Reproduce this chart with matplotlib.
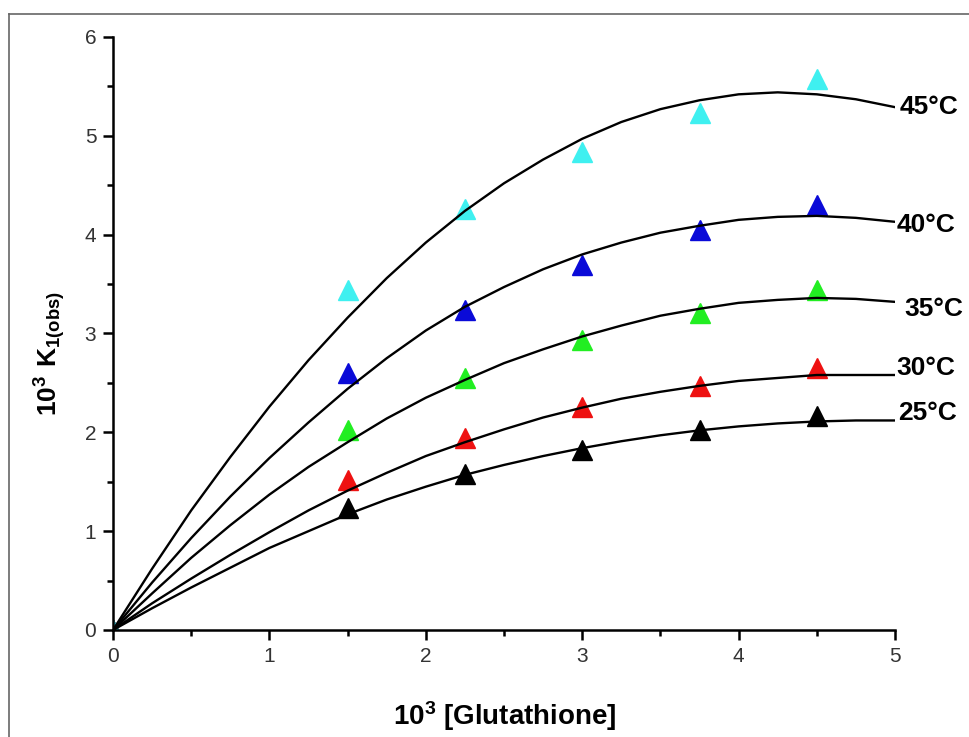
import numpy as np
import matplotlib
matplotlib.use("Agg")
import matplotlib.pyplot as plt
from matplotlib.ticker import MultipleLocator
from matplotlib.lines import Line2D

plt.rcParams['font.family'] = ['Liberation Sans', 'DejaVu Sans']
plt.rcParams['mathtext.fontset'] = 'custom'
plt.rcParams['mathtext.rm'] = 'Liberation Sans'
plt.rcParams['mathtext.bf'] = 'Liberation Sans:bold'

# measured points (x = 10^3 [Glutathione])
conc = [0, 1.5, 2.25, 3.0, 3.75, 4.5]
k25 = [0, 1.23, 1.58, 1.82, 2.02, 2.17]
k30 = [0, 1.52, 1.94, 2.26, 2.47, 2.65]
k35 = [0, 2.02, 2.55, 2.93, 3.21, 3.44]
k40 = [0, 2.60, 3.24, 3.69, 4.05, 4.30]
k45 = [0, 3.44, 4.26, 4.84, 5.23, 5.57]

# fitted curves
fit_x = [0, 0.25, 0.5, 0.75, 1.0, 1.25, 1.5, 1.75, 2.0, 2.25, 2.5,
         2.75, 3.0, 3.25, 3.5, 3.75, 4.0, 4.25, 4.5, 4.75, 5.0]
fit25 = [0, 0.22, 0.43, 0.63, 0.83, 1.00, 1.17, 1.32, 1.45, 1.57, 1.67,
         1.76, 1.84, 1.91, 1.97, 2.02, 2.06, 2.09, 2.11, 2.12, 2.12]
fit30 = [0, 0.27, 0.52, 0.76, 0.99, 1.21, 1.41, 1.59, 1.76, 1.90, 2.03,
         2.15, 2.25, 2.34, 2.41, 2.47, 2.52, 2.55, 2.58, 2.58, 2.58]
fit35 = [0, 0.37, 0.73, 1.06, 1.37, 1.65, 1.90, 2.14, 2.35, 2.53, 2.70,
         2.84, 2.97, 3.08, 3.18, 3.25, 3.31, 3.34, 3.36, 3.35, 3.32]
fit40 = [0, 0.48, 0.93, 1.35, 1.74, 2.10, 2.44, 2.75, 3.03, 3.27, 3.47,
         3.65, 3.80, 3.92, 4.02, 4.09, 4.15, 4.18, 4.19, 4.17, 4.13]
fit45 = [0, 0.62, 1.21, 1.75, 2.26, 2.73, 3.16, 3.56, 3.92, 4.24, 4.52,
         4.76, 4.97, 5.14, 5.27, 5.36, 5.42, 5.44, 5.42, 5.37, 5.29]

temps = ['25', '30', '35', '40', '45']
points = [k25, k30, k35, k40, k45]
fits = [fit25, fit30, fit35, fit40, fit45]
colours = ['#000000', '#ee1111', '#22ee22', '#0a0ad8', '#3ff0f0']
label_y = [2.20, 2.65, 3.25, 4.10, 5.29]
label_x = [5.02, 5.01, 5.06, 5.01, 5.03]

fig = plt.figure(figsize=(9.70, 7.37), dpi=100)
ax = fig.add_axes([0.1165, 0.1452, 0.8062, 0.8046])

for t, k, f, c, lx, ly in zip(temps, points, fits, colours, label_x, label_y):
    ax.plot(conc, k, '^', color=c, ms=14.5, mec=c, zorder=2)
    ax.plot(fit_x, f, '-', color='black', lw=1.7, zorder=3,
            solid_joinstyle='round')
    ax.text(lx, ly, t + '°C', fontsize=19, fontweight='bold',
            ha='left', va='center', clip_on=False)

ax.set_xlim(0, 5)
ax.set_ylim(0, 6)
for s in ['top', 'right']:
    ax.spines[s].set_visible(False)
for s in ['left', 'bottom']:
    ax.spines[s].set_linewidth(1.8)
ax.xaxis.set_major_locator(MultipleLocator(1))
ax.xaxis.set_minor_locator(MultipleLocator(0.5))
ax.yaxis.set_major_locator(MultipleLocator(1))
ax.yaxis.set_minor_locator(MultipleLocator(0.5))
ax.tick_params(which='major', direction='out', length=7, width=1.8,
               labelsize=15, labelcolor='#333333', pad=5)
ax.tick_params(which='minor', direction='out', length=4, width=1.8)

fig.text(0.52, 0.028, r'$\mathbf{10^{3}}$ [Glutathione]', fontsize=20,
         fontweight='bold', ha='center', va='center')
fig.text(0.052, 0.52, r'$\mathbf{10^{3}\ K_{1(obs)}}$', fontsize=19,
         rotation=90, ha='center', va='center')

# frame lines of the original picture (top and left only)
fig.add_artist(Line2D([0.0093, 1.0], [0.981, 0.981], color='#666666', lw=1.2,
                      transform=fig.transFigure))
fig.add_artist(Line2D([0.0093, 0.0093], [0.0, 0.981], color='#666666', lw=1.2,
                      transform=fig.transFigure))

fig.savefig('out.png', dpi=100)
